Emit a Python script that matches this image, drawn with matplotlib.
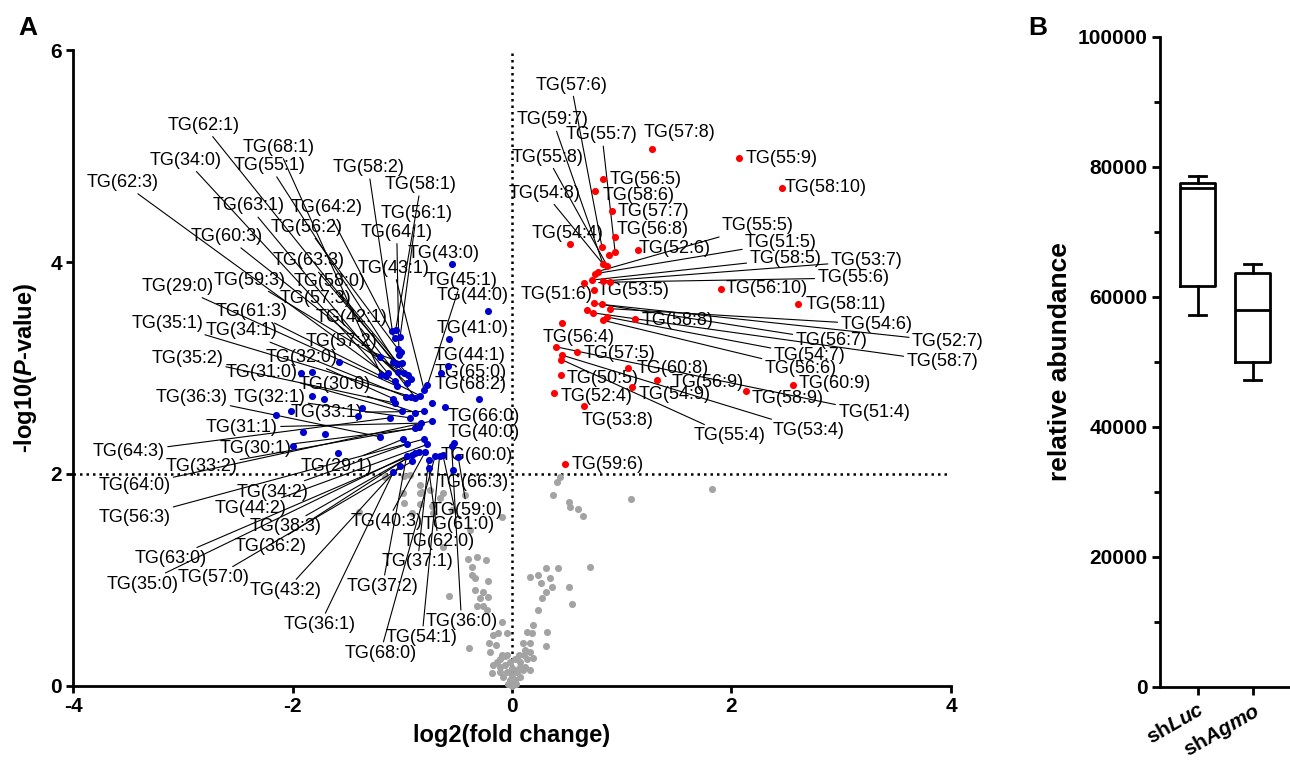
import matplotlib
matplotlib.use("Agg")
import matplotlib.pyplot as plt
from matplotlib.ticker import MultipleLocator

plt.rcParams["font.family"] = ["Liberation Sans", "DejaVu Sans"]
plt.rcParams["axes.unicode_minus"] = False
plt.rcParams["mathtext.fontset"] = "custom"
plt.rcParams["mathtext.rm"] = "Liberation Sans"
plt.rcParams["mathtext.it"] = "Liberation Sans:italic"
plt.rcParams["mathtext.bf"] = "Liberation Sans:bold"
plt.rcParams["mathtext.bfit"] = "Liberation Sans:italic:bold"

# ---- panel A data: log2 fold change / -log10 p ----
red_x = [1.28, 2.07, 2.46, 0.83, 0.76, 0.91, 0.94, 1.15, 0.53, 0.82, 0.88, 0.94, 0.83, 0.87,
         0.76, 0.78, 0.66, 0.73, 0.83, 0.89, 0.75, 1.90, 2.61, 0.75, 0.82, 0.89, 0.68, 0.74,
         0.83, 0.87, 1.12, 0.46, 0.40, 0.59, 0.46, 0.45, 1.06, 0.45, 1.32, 1.09, 2.13, 2.56,
         0.38, 0.66, 0.48]
red_y = [5.07, 4.98, 4.70, 4.78, 4.67, 4.48, 4.24, 4.11, 4.17, 4.14, 4.07, 4.09, 3.98, 3.96,
         3.89, 3.91, 3.80, 3.83, 3.82, 3.81, 3.74, 3.75, 3.60, 3.61, 3.60, 3.56, 3.55, 3.52,
         3.45, 3.48, 3.46, 3.42, 3.20, 3.15, 3.12, 3.08, 3.00, 2.93, 2.89, 2.82, 2.78, 2.84,
         2.76, 2.64, 2.09]

blue_x = [-1.09, -1.06, -1.07, -1.02, -1.04, -1.01, -1.03, -1.20, -1.08, -1.05, -1.00, -1.58,
          -1.19, -1.15, -1.13, -1.04, -0.98, -0.95, -0.92, -1.07, -1.05, -0.96, -0.77, -0.80,
          -0.84, -0.88, -0.92, -0.97, -1.08, -1.07, -0.73, -0.61, -1.37, -1.00, -0.88, -0.80,
          -1.11, -0.93, -0.73, -0.83, -0.88, -0.85, -1.20, -0.99, -0.96, -0.80, -0.77, -0.55,
          -0.53, -1.59, -0.85, -0.88, -0.91, -0.96, -0.79, -0.66, -0.70, -0.76, -0.49, -0.91,
          -1.02, -0.76, -0.54, -1.08, -1.92, -1.82, -1.82, -1.71, -1.40, -2.15, -2.01, -1.90,
          -1.70, -2.00, -0.57, -0.58, -0.65, -0.22, -0.30, -0.55, -0.63]
blue_y = [3.35, 3.36, 3.28, 3.29, 3.18, 3.15, 3.12, 3.10, 3.06, 3.04, 3.05, 3.06, 2.93, 2.92,
          2.95, 2.96, 2.95, 2.93, 2.90, 2.88, 2.83, 2.86, 2.84, 2.79, 2.74, 2.72, 2.73, 2.73,
          2.71, 2.67, 2.67, 2.63, 2.62, 2.59, 2.58, 2.59, 2.53, 2.53, 2.50, 2.48, 2.43, 2.44,
          2.35, 2.33, 2.28, 2.33, 2.28, 2.26, 2.29, 2.20, 2.21, 2.20, 2.18, 2.17, 2.21, 2.17,
          2.17, 2.13, 2.16, 2.12, 2.08, 2.06, 2.04, 2.02, 2.95, 2.96, 2.74, 2.71, 2.55, 2.56,
          2.59, 2.40, 2.38, 2.26, 3.27, 3.02, 2.95, 3.54, 2.71, 3.98, 2.18]

gray_x = [0.44, 0.41, 0.37, 0.52, 0.53, 0.60, 0.65, 1.08, 1.82, 0.42, 0.31, 0.71, 0.16, 0.24,
          0.35, 0.26, 0.36, 0.52, 0.31, 0.27, 0.55, 0.24, 0.19, 0.32, 0.14, 0.18, 0.10, 0.16,
          0.31, 0.12, 0.16, 0.11, 0.19, 0.07, 0.10, 0.05,
          -1.16, -0.93, -0.84, -0.75, -0.99, -0.84, -0.43, -0.66, -0.98, -0.91, -0.72, -0.09,
          -1.39, -0.38, -0.40, -0.32, -0.24, -0.36, -0.36, -0.34, -0.22, -0.57, -0.34, -0.26,
          -0.29, -0.22, -0.32, -0.26, -0.23, -0.09, -0.17, -0.13, -0.05, -0.39, -0.21, -0.15,
          -0.20, -0.09, -0.05, -0.18, -0.11, -0.98, -0.63, -0.55, -0.82, -0.73, -0.84, -0.63,
          -0.11, -0.06, -0.02, 0.03, 0.07, -0.05, 0.00, 0.05, -0.08, -0.02, 0.03, 0.07,
          -0.04, 0.00, 0.04, -0.11, 0.12, -0.14, 0.14, -0.17, 0.16, -0.06, 0.06, 0.00]
gray_y = [1.97, 1.92, 1.80, 1.74, 1.69, 1.67, 1.60, 1.76, 1.86, 1.11, 1.11, 1.12, 1.03, 1.05,
          1.02, 0.97, 0.93, 0.93, 0.89, 0.83, 0.77, 0.72, 0.58, 0.51, 0.51, 0.50, 0.41, 0.41,
          0.38, 0.34, 0.32, 0.29, 0.26, 0.18, 0.15, 0.15,
          1.97, 1.99, 1.90, 1.85, 1.82, 1.82, 1.80, 1.77, 1.73, 1.63, 1.63, 1.59,
          1.64, 1.47, 1.20, 1.22, 1.19, 1.12, 1.05, 1.02, 0.99, 0.85, 0.91, 0.89,
          0.83, 0.84, 0.75, 0.75, 0.72, 0.60, 0.48, 0.50, 0.50, 0.36, 0.41, 0.39,
          0.32, 0.29, 0.29, 0.12, 0.18, 1.98, 1.82, 1.66, 1.83, 1.70, 1.72, 1.31,
          0.25, 0.20, 0.23, 0.25, 0.23, 0.13, 0.10, 0.13, 0.08, 0.06, 0.06, 0.08,
          0.02, 0.00, 0.02, 0.13, 0.18, 0.23, 0.25, 0.20, 0.15, 0.28, 0.29, 0.17]

red_names = ["TG(57:6)", "TG(59:7)", "TG(55:7)", "TG(57:8)", "TG(55:8)", "TG(56:5)", "TG(55:9)",
             "TG(58:6)", "TG(58:10)", "TG(54:8)", "TG(57:7)", "TG(56:8)", "TG(55:5)", "TG(54:4)",
             "TG(52:6)", "TG(51:5)", "TG(58:5)", "TG(53:7)", "TG(55:6)", "TG(51:6)", "TG(53:5)",
             "TG(56:10)", "TG(58:11)", "TG(58:8)", "TG(54:6)", "TG(56:4)", "TG(56:7)", "TG(52:7)",
             "TG(54:7)", "TG(58:7)", "TG(57:5)", "TG(56:6)", "TG(60:8)", "TG(50:5)", "TG(56:9)",
             "TG(60:9)", "TG(54:9)", "TG(52:4)", "TG(58:9)", "TG(51:4)", "TG(53:8)", "TG(55:4)",
             "TG(53:4)", "TG(59:6)"]
red_targets = [9, 12, 11, 0, 13, 3, 1, 4, 2, 12, 5, 6, 15, 8, 7, 14, 17, 18, 19, 20, 23, 21, 22,
               30, 25, 31, 23, 24, 29, 27, 33, 28, 36, 37, 38, 41, 39, 42, 40, 32, 43, 35, 34, 44]

blue_names = ["TG(62:1)", "TG(68:1)", "TG(34:0)", "TG(55:1)", "TG(58:2)", "TG(58:1)", "TG(62:3)",
              "TG(63:1)", "TG(64:2)", "TG(56:1)", "TG(56:2)", "TG(64:1)", "TG(60:3)", "TG(43:0)",
              "TG(63:3)", "TG(43:1)", "TG(45:1)", "TG(59:3)", "TG(58:0)", "TG(29:0)", "TG(57:3)",
              "TG(61:3)", "TG(42:1)", "TG(35:1)", "TG(34:1)", "TG(57:2)", "TG(32:0)", "TG(35:2)",
              "TG(31:0)", "TG(30:0)", "TG(36:3)", "TG(32:1)", "TG(33:1)", "TG(31:1)", "TG(64:3)",
              "TG(30:1)", "TG(33:2)", "TG(29:1)", "TG(64:0)", "TG(34:2)", "TG(56:3)", "TG(44:2)",
              "TG(38:3)", "TG(36:2)", "TG(63:0)", "TG(35:0)", "TG(57:0)", "TG(43:2)", "TG(36:1)",
              "TG(37:2)", "TG(37:1)", "TG(40:3)", "TG(68:0)", "TG(54:1)", "TG(62:0)", "TG(61:0)",
              "TG(59:0)", "TG(66:3)", "TG(36:0)", "TG(60:0)", "TG(40:0)", "TG(66:0)", "TG(68:2)",
              "TG(65:0)", "TG(44:1)", "TG(41:0)", "TG(44:0)"]
blue_targets = [8, 12, 13, 9, 0, 1, 19, 14, 2, 3, 4, 6, 15, 79, 16, 23, 22, 17, 18, 20, 21,
                24, 25, 26, 27, 10, 28, 29, 33, 34, 42, 37, 35, 39, 36, 40, 41, 43, 38, 44, 45,
                46, 50, 51, 52, 53, 59, 60, 63, 53, 57, 54, 56, 55, 61, 80, 58, 62, 47, 58, 47,
                31, 78, 76, 75, 74, 77]

# ---- label layout (label centres in data units, leader line or not) ----
red_label_xy = [(0.54, 5.67), (0.37, 5.34), (0.82, 5.20), (1.53, 5.22), (0.32, 4.99),
                (1.22, 4.78), (2.46, 4.98), (1.15, 4.63), (2.86, 4.70), (0.30, 4.65),
                (1.29, 4.48), (1.28, 4.31), (2.24, 4.34), (0.51, 4.27), (1.48, 4.13),
                (2.45, 4.18), (2.49, 4.03), (3.23, 4.01), (3.11, 3.85), (0.41, 3.69),
                (1.11, 3.73), (2.32, 3.75), (3.04, 3.60), (1.51, 3.45), (3.32, 3.41),
                (0.61, 3.29), (2.91, 3.26), (3.97, 3.25), (2.71, 3.12), (3.92, 3.06),
                (0.975, 3.14), (2.63, 3.00), (1.46, 3.00), (0.83, 2.90), (1.78, 2.86),
                (2.94, 2.85), (1.485, 2.75), (0.775, 2.73), (2.51, 2.71), (3.30, 2.58),
                (0.96, 2.50), (1.98, 2.36), (2.70, 2.41), (0.875, 2.09)]
red_leader = [True, True, True, False, True, False, False, False, False, True, False, False,
              True, False, False, True, True, True, True, False, False, False, False, False,
              True, False, True, True, True, True, False, True, False, False, False, False,
              False, False, False, True, False, True, True, False]

blue_label_xy = [(-2.81, 5.29), (-2.13, 5.08), (-2.97, 4.96), (-2.21, 4.91), (-1.31, 4.89),
                 (-0.83, 4.73), (-3.55, 4.75), (-2.40, 4.53), (-1.69, 4.51), (-0.87, 4.46),
                 (-1.87, 4.33), (-1.05, 4.28), (-2.60, 4.24), (-0.62, 4.08), (-1.85, 4.01),
                 (-1.08, 3.94), (-0.46, 3.83), (-2.39, 3.83), (-1.66, 3.82), (-3.05, 3.77),
                 (-1.79, 3.66), (-2.37, 3.53), (-1.46, 3.48), (-3.14, 3.42), (-2.46, 3.35),
                 (-1.55, 3.25), (-1.92, 3.10), (-2.96, 3.09), (-2.28, 2.96), (-1.62, 2.84),
                 (-2.92, 2.72), (-2.21, 2.72), (-1.69, 2.58), (-2.46, 2.44), (-3.49, 2.21),
                 (-2.34, 2.24), (-2.83, 2.07), (-1.60, 2.07), (-3.44, 1.89), (-2.18, 1.83),
                 (-3.44, 1.59), (-2.38, 1.67), (-2.06, 1.50), (-2.20, 1.32), (-3.11, 1.20),
                 (-3.37, 0.96), (-2.72, 1.02), (-2.06, 0.90), (-1.75, 0.58), (-1.18, 0.94),
                 (-0.86, 1.17), (-1.14, 1.55), (-1.20, 0.31), (-0.82, 0.46), (-0.67, 1.36),
                 (-0.49, 1.52), (-0.41, 1.66), (-0.36, 1.92), (-0.46, 0.61), (-0.32, 2.17),
                 (-0.26, 2.39), (-0.26, 2.54), (-0.38, 2.84), (-0.38, 2.96), (-0.39, 3.12),
                 (-0.36, 3.37), (-0.36, 3.68)]
blue_leader = [True] * 13 + [False] + [True] * 43 + [False] + [True] + [False] * 8

# ---- panel B data: box plot summary ----
box_groups = [r"sh$\mathbfit{Luc}$", r"sh$\mathbfit{Agmo}$"]
box_low = [57230, 47230]
box_q1 = [61740, 50050]
box_median = [76800, 58000]
box_q3 = [77460, 63640]
box_high = [78600, 65080]

fig = plt.figure(figsize=(12.9, 7.65), dpi=100)
ax = fig.add_axes([0.0566, 0.1033, 0.6806, 0.8313])

ax.axvline(0, color="k", ls=(0, (1, 1.6)), lw=1.8, zorder=1)
ax.axhline(2, color="k", ls=(0, (1, 1.6)), lw=1.8, zorder=1)

ax.scatter(gray_x, gray_y, s=26, color="#a3a3a3", lw=0, zorder=3, clip_on=False)
ax.scatter(red_x, red_y, s=26, color="#ff0000", lw=0, zorder=4)
ax.scatter(blue_x, blue_y, s=26, color="#0000cc", lw=0, zorder=4)

line_props = dict(arrowstyle="-", color="k", lw=0.8, shrinkA=0, shrinkB=0)


def put_labels(names, targets, xy, leader, px, py):
    for name, t, (lx, ly), lead in zip(names, targets, xy, leader):
        if lead:
            ax.annotate(name, xy=(px[t], py[t]), xytext=(lx, ly), ha="center", va="center",
                        fontsize=13, arrowprops=line_props, zorder=3, annotation_clip=False)
        else:
            ax.text(lx, ly, name, ha="center", va="center", fontsize=13, zorder=3)


put_labels(red_names, red_targets, red_label_xy, red_leader, red_x, red_y)
put_labels(blue_names, blue_targets, blue_label_xy, blue_leader, blue_x, blue_y)

ax.set_xlim(-4, 4)
ax.set_ylim(0, 6)
ax.set_xticks([-4, -2, 0, 2, 4])
ax.set_yticks([0, 2, 4, 6])
for side in ["top", "right"]:
    ax.spines[side].set_visible(False)
for side in ["left", "bottom"]:
    ax.spines[side].set_linewidth(2.0)
ax.tick_params(width=2.0, length=5, labelsize=15, pad=3)
for lab in ax.get_xticklabels() + ax.get_yticklabels():
    lab.set_fontweight("bold")
ax.set_xlabel("log2(fold change)", fontsize=17, fontweight="bold", labelpad=6)
ax.set_ylabel(r"-log10($\mathbfit{P}$-value)", fontsize=17, fontweight="bold", labelpad=8)

# ---- panel B ----
axb = fig.add_axes([0.8992, 0.1020, 0.1, 0.8497])
stats = []
for g, lo, q1, med, q3, hi in zip(box_groups, box_low, box_q1, box_median, box_q3, box_high):
    stats.append(dict(label=g, whislo=lo, q1=q1, med=med, q3=q3, whishi=hi, fliers=[]))
lp = dict(color="k", lw=2.0)
axb.bxp(stats, positions=[0, 1], widths=0.636, capwidths=0.31, showfliers=False,
        boxprops=lp, medianprops=lp, whiskerprops=lp, capprops=lp, manage_ticks=False)
axb.set_xlim(-0.69, 1.655)
axb.set_ylim(0, 100000)
axb.set_xticks([0, 1])
axb.set_xticklabels(box_groups, rotation=30, ha="right", rotation_mode="anchor",
                    fontsize=17, fontweight="bold")
axb.yaxis.set_major_locator(MultipleLocator(20000))
axb.yaxis.set_minor_locator(MultipleLocator(10000))
for side in ["top", "right"]:
    axb.spines[side].set_visible(False)
for side in ["left", "bottom"]:
    axb.spines[side].set_linewidth(2.0)
axb.tick_params(width=2.0, length=6, labelsize=15, pad=3)
axb.tick_params(which="minor", width=2.0, length=4)
for lab in axb.get_yticklabels():
    lab.set_fontweight("bold")
axb.set_ylabel("relative abundance", fontsize=19, fontweight="bold", labelpad=4)

fig.text(18 / 1290, 1 - 28 / 765, "A", fontsize=19, fontweight="bold", va="center")
fig.text(1028 / 1290, 1 - 28 / 765, "B", fontsize=19, fontweight="bold", va="center")

fig.savefig("out.png", dpi=100)
